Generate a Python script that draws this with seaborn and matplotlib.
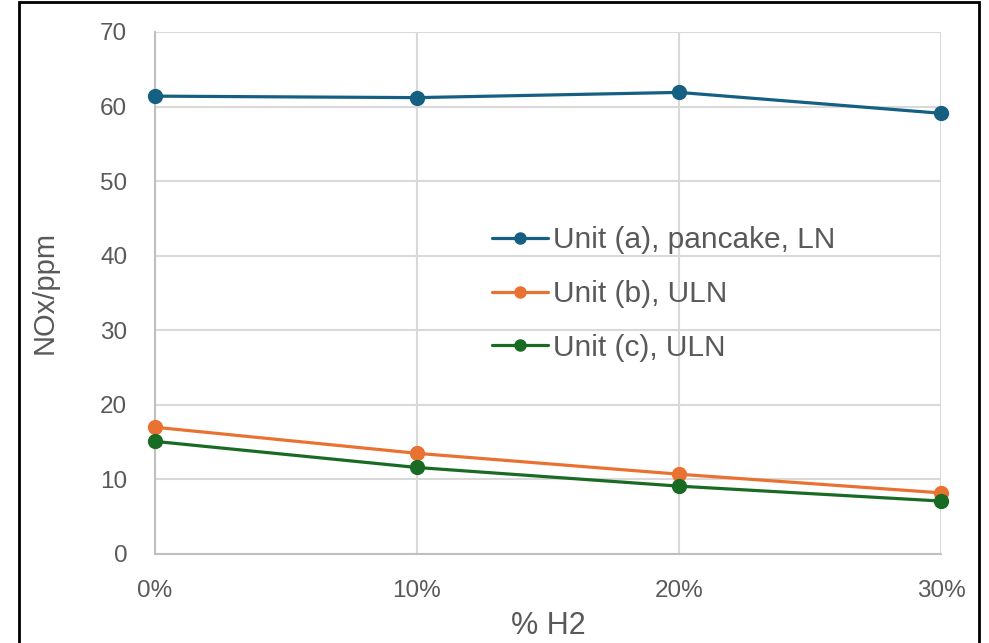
import matplotlib
matplotlib.use("Agg")
import matplotlib.pyplot as plt
from matplotlib.patches import Rectangle
from matplotlib.ticker import FuncFormatter
import pandas as pd
import seaborn as sns

# Hydrogen share in the fuel (%)
h2_percent = [0, 10, 20, 30]

# NOx emissions (ppm) per unit
unit_a = [61.4, 61.2, 61.9, 59.1]
unit_b = [17.0, 13.5, 10.7, 8.2]
unit_c = [15.1, 11.6, 9.1, 7.1]

series_names = ["Unit (a), pancake, LN", "Unit (b), ULN", "Unit (c), ULN"]
series_colors = ["#156082", "#E97132", "#196B24"]

df = pd.concat(
    [
        pd.DataFrame({"h2": h2_percent, "nox": vals, "unit": name})
        for name, vals in zip(series_names, [unit_a, unit_b, unit_c])
    ],
    ignore_index=True,
)

sns.set_theme(style="white")
plt.rcParams["font.family"] = ["Liberation Sans", "DejaVu Sans"]

fig = plt.figure(figsize=(9.89, 6.43), dpi=100)
W, H = 989, 643
ax = fig.add_axes([155 / W, 1 - 554 / H, (941 - 155) / W, (554 - 32) / H])

sns.lineplot(
    data=df, x="h2", y="nox", hue="unit", hue_order=series_names,
    palette=series_colors, marker="o", markersize=11, markeredgewidth=0,
    linewidth=2.3, ax=ax, legend=False, clip_on=False, zorder=3,
)

ax.set_xlim(0, 30)
ax.set_ylim(0, 70)
ax.set_xticks(h2_percent)
ax.set_yticks(range(0, 71, 10))
ax.xaxis.set_major_formatter(FuncFormatter(lambda v, _: f"{v:.0f}%"))

grid_col = "#D9D9D9"
ax.grid(True, color=grid_col, linewidth=1.5)
ax.set_axisbelow(True)
for side in ["top", "right"]:
    ax.spines[side].set_visible(False)
for side in ["left", "bottom"]:
    ax.spines[side].set_color("#BFBFBF")
    ax.spines[side].set_linewidth(1.5)

ax.tick_params(axis="both", length=0, labelsize=17.5, labelcolor="#595959")
ax.tick_params(axis="y", pad=20)
ax.tick_params(axis="x", pad=18.5)

ax.set_xlabel("% H2", fontsize=22, color="#595959", labelpad=7)
ax.set_ylabel("NOx/ppm", fontsize=21, color="#595959", labelpad=30)

handles = [
    plt.Line2D([], [], color=c, linewidth=2.3, marker="o", markersize=9, markeredgewidth=0)
    for c in series_colors
]
fig.legend(
    handles, series_names, loc="center left",
    bbox_to_anchor=(480 / W, 1 - 294 / H), frameon=False,
    fontsize=21.5, labelcolor="#595959", handlelength=1.88, handletextpad=0.15,
    labelspacing=0.86, borderaxespad=0,
)

# Outer chart frame
fig.patches.append(
    Rectangle((19 / W, -0.02), (979 - 19) / W, 1 - 2 / H + 0.02,
              transform=fig.transFigure, fill=False, edgecolor="black",
              linewidth=2, zorder=10)
)

fig.savefig("out.png", dpi=100)
